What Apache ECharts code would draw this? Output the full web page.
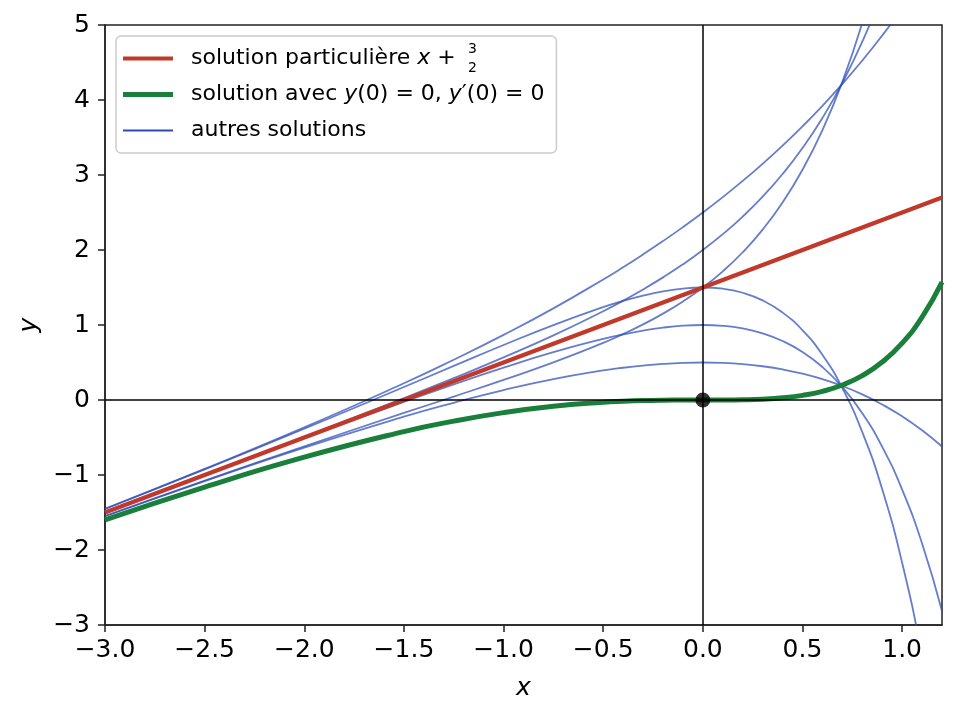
<!DOCTYPE html>
<html>
<head>
<meta charset="utf-8">
<script src="https://cdn.jsdelivr.net/npm/echarts@6/dist/echarts.min.js"></script>
<style>
  html, body { margin: 0; padding: 0; background: #fff; }
  #chart { width: 957px; height: 717px; }
</style>
</head>
<body>
<div id="chart"></div>
<script>
// abscisses communes a toutes les courbes
var xs = [-3, -2.5, -2, -1.5, -1.25, -1, -0.75, -0.5, -0.4, -0.3, -0.2, -0.1, 0, 0.1, 0.2, 0.3, 0.4, 0.5, 0.6, 0.7, 0.8, 0.9, 1.0, 1.1, 1.2];

// solution particuliere x + 3/2
var particuliere = [-1.5, -1, -0.5, 0, 0.25, 0.5, 0.75, 1, 1.1, 1.2, 1.3, 1.4, 1.5, 1.6, 1.7, 1.8, 1.9, 2.0, 2.1, 2.2, 2.3, 2.4, 2.5, 2.6, 2.7];
// solution avec y(0)=0, y'(0)=0
var solZero = [-1.598, -1.161, -0.762, -0.421, -0.282, -0.168, -0.083, -0.029, -0.016, -0.007, -0.002, -0.0003, 0, 0.0004, 0.003, 0.011, 0.029, 0.062, 0.116, 0.200, 0.325, 0.506, 0.758, 1.104, 1.571];

// autres solutions
var autreA = [-1.550, -1.082, -0.635, -0.223, -0.037, 0.132, 0.278, 0.394, 0.430, 0.459, 0.481, 0.495, 0.5, 0.495, 0.479, 0.450, 0.408, 0.351, 0.278, 0.186, 0.075, -0.060, -0.218, -0.404, -0.620];
var autreB = [-1.501, -1.003, -0.509, -0.025, 0.209, 0.432, 0.638, 0.816, 0.875, 0.926, 0.965, 0.991, 1.0, 0.989, 0.954, 0.889, 0.787, 0.641, 0.440, 0.172, -0.177, -0.625, -1.195, -1.913, -2.812];
var autreC = [-1.453, -0.925, -0.383, 0.173, 0.454, 0.733, 0.999, 1.239, 1.321, 1.392, 1.448, 1.486, 1.5, 1.484, 1.430, 1.328, 1.166, 0.930, 0.602, 0.159, -0.428, -1.190, -2.171, -3.421, -5.003];
var autreD = [-1.547, -1.075, -0.617, -0.173, 0.046, 0.268, 0.501, 0.761, 0.879, 1.008, 1.152, 1.314, 1.5, 1.716, 1.970, 2.272, 2.634, 3.070, 3.598, 4.242, 5.028, 5.990, 7.171, 8.621, 10.403];
var autreE = [-1.499, -0.997, -0.491, 0.025, 0.291, 0.568, 0.862, 1.184, 1.325, 1.474, 1.635, 1.809, 2.0, 2.211, 2.446, 2.711, 3.013, 3.359, 3.760, 4.228, 4.777, 5.425, 6.195, 7.113, 8.212];
var autreF = [-1.450, -0.918, -0.365, 0.223, 0.537, 0.868, 1.222, 1.607, 1.770, 1.941, 2.119, 2.305, 2.5, 2.705, 2.921, 3.150, 3.392, 3.649, 3.922, 4.214, 4.526, 4.860, 5.218, 5.604, 6.020];

var xTicks = [-3, -2.5, -2, -1.5, -1, -0.5, 0, 0.5, 1.0];
var yTicks = [-3, -2, -1, 0, 1, 2, 3, 4, 5];

var FONT = 'DejaVu Sans';
var ROUGE = '#c1392b';
var VERT = '#1a7f3b';
var BLEU = '#2b4bb8';
var LISSAGE = 0.5;

function paires(ys) {
    var out = [];
    for (var i = 0; i < xs.length; i++) {
        out.push([xs[i], ys[i]]);
    }
    return out;
}

var libelles = {
    'particuliere': 'solution particulière {i|x} + ',
    'zero': 'solution avec {i|y}(0) = 0, {i|y}′(0) = 0',
    'autres solutions': 'autres solutions'
};

var myChart = echarts.init(document.getElementById('chart'), null, {renderer: 'canvas'});

var temp_series = [];
var autres = [autreA, autreB, autreC, autreD, autreE, autreF];
for (var k = 0; k < autres.length; k++) {
    temp_series.push({
        name: 'autres solutions',
        type: 'line',
        data: paires(autres[k]),
        showSymbol: false,
        smooth: LISSAGE,
        clip: true,
        color: BLEU,
        lineStyle: {width: 1.8, color: BLEU, opacity: 0.72},
        z: 2
    });
}
temp_series.push({
    name: 'particuliere',
    type: 'line',
    data: paires(particuliere),
    showSymbol: false,
    clip: true,
    color: ROUGE,
    lineStyle: {width: 4.2, color: ROUGE},
    z: 3
});
temp_series.push({
    name: 'zero',
    type: 'line',
    data: paires(solZero),
    showSymbol: false,
    smooth: LISSAGE,
    clip: true,
    color: VERT,
    lineStyle: {width: 5, color: VERT},
    z: 4
});
// axes x = 0 et y = 0
temp_series.push({
    name: 'axes',
    type: 'line',
    data: [],
    z: 5,
    markLine: {
        silent: true,
        symbol: 'none',
        label: {show: false},
        lineStyle: {color: '#000', width: 1.5, type: 'solid'},
        data: [{yAxis: 0}, {xAxis: 0}]
    }
});
temp_series.push({
    name: 'origine',
    type: 'scatter',
    data: [[0, 0]],
    symbolSize: 15,
    itemStyle: {color: '#000'},
    z: 6
});

var option = {
    animation: false,
    backgroundColor: '#fff',
    textStyle: {fontFamily: FONT},
    grid: {
        left: 105, right: 15, top: 25, bottom: 92,
        show: true, borderColor: '#222', borderWidth: 1.5, backgroundColor: 'transparent'
    },
    legend: {
        orient: 'vertical',
        left: 116, top: 36,
        padding: [9, 12, 9, 7],
        itemGap: 9,
        itemWidth: 50,
        itemHeight: 14,
        backgroundColor: '#fff',
        borderColor: '#cccccc',
        borderWidth: 1.5,
        borderRadius: 5,
        data: [
            {name: 'particuliere', icon: 'path://M0,0H50V4.2H0Z'},
            {name: 'zero', icon: 'path://M0,0H50V5H0Z'},
            {name: 'autres solutions', icon: 'path://M0,0H50V1.8H0Z'}
        ],
        formatter: function (name) {
            return libelles[name];
        },
        textStyle: {
            fontFamily: FONT, fontSize: 22, color: '#000', lineHeight: 27,
            padding: [0, 0, 0, 13],
            rich: {
                i: {fontFamily: FONT, fontStyle: 'italic', fontSize: 22, color: '#000'}
            }
        }
    },
    xAxis: {
        type: 'value',
        min: -3, max: 1.2,
        name: 'x',
        nameLocation: 'middle',
        nameGap: 51,
        nameTextStyle: {fontFamily: FONT, fontStyle: 'italic', fontSize: 25, color: '#000'},
        axisLine: {onZero: false, lineStyle: {color: '#222', width: 1.5}},
        axisTick: {show: true, inside: false, length: 7, lineStyle: {color: '#222', width: 1.5}, customValues: xTicks},
        axisLabel: {
            customValues: xTicks,
            margin: 13,
            fontFamily: FONT, fontSize: 25, color: '#000',
            formatter: function (v) { return v.toFixed(1).replace('-', '\u2212'); }
        },
        splitLine: {show: false}
    },
    yAxis: {
        type: 'value',
        min: -3, max: 5, interval: 1,
        name: 'y',
        nameLocation: 'middle',
        nameGap: 62,
        nameTextStyle: {fontFamily: FONT, fontStyle: 'italic', fontSize: 25, color: '#000'},
        axisLine: {onZero: false, lineStyle: {color: '#222', width: 1.5}},
        axisTick: {show: true, inside: false, length: 7, lineStyle: {color: '#222', width: 1.5}, customValues: yTicks},
        axisLabel: {
            customValues: yTicks,
            margin: 15,
            fontFamily: FONT, fontSize: 25, color: '#000',
            formatter: function (v) { return String(v).replace('-', '\u2212'); }
        },
        splitLine: {show: false}
    },
    graphic: [
        // fraction 3/2 du libelle de la solution particuliere
        {type: 'text', left: 468, top: 42, z: 100,
            style: {text: '3', fontFamily: FONT, fontSize: 14, fill: '#000'}},
        {type: 'text', left: 468, top: 61, z: 100,
            style: {text: '2', fontFamily: FONT, fontSize: 14, fill: '#000'}}
    ],
    series: temp_series
};

myChart.setOption(option);
</script>
</body>
</html>
